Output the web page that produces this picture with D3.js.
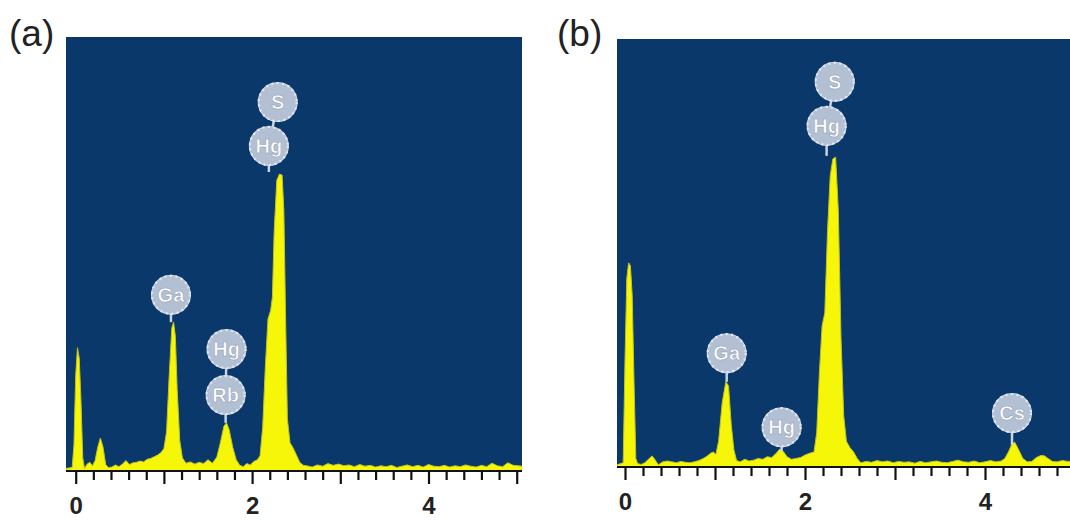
<!DOCTYPE html>
<html>
<title>EDS spectra</title>
<meta charset="UTF-8">
<script type="text/javascript" src="https://d3js.org/d3.v7.min.js"></script>
<style type="text/css">
  body { margin:0; background:#fff; }
  svg { display:block; }
  .tick text { font-family: "Liberation Sans", Arial, sans-serif; font-weight: bold; font-size: 24px; fill: #222; }
</style>
<body>
<svg id="viz" width="1070" height="520"></svg>
<script>
// spectrum (a): [energy keV, counts in % of full scale]
var spectrumA = [
  [-0.11,0.6],[-0.04,0.8],[-0.02,6],[0.0,22],[0.02,28.4],[0.04,26],[0.06,16],[0.08,3],[0.1,0.6],
  [0.13,1.6],[0.16,2.0],[0.19,1.2],[0.22,2.4],[0.25,5.5],[0.28,7.6],[0.31,5.5],[0.34,1.5],[0.37,0.8],
  [0.41,0.9],[0.45,1.4],[0.49,1.0],[0.53,1.6],[0.57,2.4],[0.61,1.5],[0.65,1.9],[0.69,2.0],[0.73,2.3],
  [0.77,2.1],[0.81,2.7],[0.85,2.9],[0.89,3.3],[0.93,3.7],[0.97,4.3],[1.0,5.2],[1.03,9],[1.06,22],
  [1.09,33],[1.11,34.3],[1.13,31],[1.15,19],[1.18,7],[1.21,3],[1.25,1.8],[1.3,2.1],[1.35,1.6],
  [1.4,2.0],[1.45,1.7],[1.5,2.6],[1.55,1.8],[1.6,3.2],[1.64,6.5],[1.68,10.3],[1.71,11.1],[1.74,9.5],
  [1.78,5.5],[1.82,2.6],[1.86,1.3],[1.9,1.0],[1.94,1.7],[1.98,1.4],[2.02,2.2],[2.06,2.6],[2.09,3.5],
  [2.12,10],[2.15,24],[2.18,35],[2.21,37],[2.23,40],[2.25,55],[2.28,67],[2.31,68.4],[2.34,68.2],
  [2.36,60],[2.38,35],[2.40,12],[2.43,6.5],[2.46,5.5],[2.5,3.8],[2.54,2.0],[2.58,1.3],
  [2.62,1.2],[2.68,0.9],[2.74,1.4],[2.8,1.1],[2.86,1.7],[2.92,1.3],[2.98,1.6],[3.04,1.2],[3.1,1.4],
  [3.16,1.0],[3.22,1.5],[3.28,1.1],[3.34,1.3],[3.4,0.9],[3.46,1.2],[3.52,1.0],[3.58,1.3],[3.64,0.8],
  [3.7,1.1],[3.76,1.4],[3.82,1.0],[3.88,1.3],[3.94,0.9],[4.0,1.5],[4.06,1.1],[4.12,1.0],[4.18,1.3],
  [4.24,0.9],[4.3,1.2],[4.36,1.0],[4.42,1.4],[4.48,1.1],[4.54,0.9],[4.6,1.3],[4.66,1.0],[4.72,1.8],
  [4.78,1.2],[4.84,1.0],[4.9,1.9],[4.96,1.3],[5.02,1.2],[5.06,1.1]
];

// spectrum (b)
var spectrumB = [
  [-0.09,0.5],[-0.02,1.0],[0.0,25],[0.02,44],[0.04,47.7],[0.06,47],[0.08,40],[0.1,20],[0.12,2],[0.14,0.8],
  [0.18,0.6],[0.22,1.0],[0.27,2.0],[0.3,2.6],[0.33,1.8],[0.37,0.5],[0.42,1.2],[0.47,1.4],[0.52,1.2],[0.57,1.0],
  [0.62,1.3],[0.67,1.1],[0.72,1.0],[0.77,1.2],[0.82,1.5],[0.87,2.0],[0.91,2.5],[0.95,3.2],[0.98,3.5],
  [1.01,3.0],[1.04,6],[1.08,15],[1.12,19.9],[1.15,19],[1.18,10],[1.21,4],[1.24,1.5],[1.28,1.2],
  [1.33,1.8],[1.38,1.4],[1.43,1.6],[1.48,2.0],[1.53,1.8],[1.58,2.4],[1.63,2.2],[1.68,3.2],[1.72,4.2],
  [1.76,3.6],[1.8,2.4],[1.85,1.8],[1.9,2.0],[1.95,2.2],[2.0,2.8],[2.05,3.2],[2.1,3.5],[2.13,8],
  [2.16,22],[2.19,33],[2.22,36],[2.25,55],[2.28,68],[2.31,72],[2.34,72.4],[2.37,60],[2.40,30],
  [2.43,12],[2.46,6],[2.5,4.5],[2.54,3.5],[2.58,2.0],[2.62,1.0],[2.68,1.3],[2.74,1.1],[2.8,1.5],
  [2.86,1.2],[2.92,1.4],[2.98,1.0],[3.04,1.3],[3.1,1.1],[3.16,1.2],[3.22,0.9],[3.28,1.3],[3.34,1.0],
  [3.4,1.2],[3.46,1.4],[3.52,1.1],[3.58,1.0],[3.64,1.3],[3.7,1.6],[3.76,1.2],[3.82,1.1],[3.88,1.4],
  [3.94,1.0],[4.0,1.2],[4.06,1.5],[4.12,1.2],[4.18,1.4],[4.22,2.0],[4.26,3.5],[4.3,5.4],[4.33,5.8],
  [4.37,4.2],[4.42,2.0],[4.47,1.2],[4.52,1.3],[4.57,2.2],[4.62,2.7],[4.66,2.6],[4.7,2.0],[4.75,1.3],
  [4.8,1.2],[4.86,1.5],[4.92,1.3],[4.98,1.4],[5.05,1.2]
];

// element labels: [symbol, energy of badge, badge height, peak height at tail end (null = linked to badge below)]
var labelsA = [
  ["Ga", 1.08, 40.6, 34.3],
  ["Rb", 1.70, 17.5, 11.1],
  ["Hg", 1.71, 28.1, null],
  ["Hg", 2.19, 74.9, 68.9],
  ["S",  2.29, 85.0, null]
];
var labelsB = [
  ["Ga", 1.13, 26.6, 19.9],
  ["Hg", 1.74, 9.3, 3.6],
  ["Hg", 2.24, 79.7, 72.7],
  ["S",  2.33, 90.0, null],
  ["Cs", 4.30, 12.6, 5.1]
];

var tickLabels = [0, 2, 4];
var panelTitles = ["(a)", "(b)"];

var svg = d3.select("#viz");

function drawPanel(spec, labels, title, box) {
  var x = d3.scaleLinear().domain(box.xDomain).range([box.left, box.right]);
  var y = d3.scaleLinear().domain([0, 100]).range([box.bottom, box.top]);
  var g = svg.append("g");

  var clipId = "clip" + title.replace(/\W/g, "");
  g.append("clipPath").attr("id", clipId)
    .append("rect")
      .attr("x", box.left).attr("y", box.top)
      .attr("width", box.right - box.left).attr("height", box.bottom - box.top);

  // blue plot background
  g.append("rect")
    .attr("x", box.left).attr("y", box.top)
    .attr("width", box.right - box.left).attr("height", box.bottom - box.top)
    .attr("fill", "#0a386b");

  var area = d3.area()
    .x(function(d) { return x(d[0]); })
    .y0(y(0))
    .y1(function(d) { return y(d[1]); });

  g.append("path")
    .datum(spec)
    .attr("clip-path", "url(#" + clipId + ")")
    .attr("d", area)
    .attr("fill", "#f6f608")
    .attr("stroke", "#c3c321")
    .attr("stroke-width", 1);

  // axes: minor every 0.2, integers longer, labels on even numbers
  var minor = d3.range(0, 5.01, 0.2).filter(function(v) { return Math.abs(v - Math.round(v)) > 0.01; });
  var ints = [0, 1, 2, 3, 4, 5];

  var ax1 = g.append("g")
    .attr("transform", "translate(0," + box.bottom + ")")
    .call(d3.axisBottom(x).tickValues(minor).tickSize(9).tickFormat(""));
  var ax2 = g.append("g")
    .attr("transform", "translate(0," + box.bottom + ")")
    .call(d3.axisBottom(x).tickValues(ints).tickSize(13).tickPadding(13)
      .tickFormat(function(d) { return tickLabels.indexOf(d) >= 0 ? d : ""; }));
  [ax1, ax2].forEach(function(a) {
    a.select(".domain").remove();
    a.selectAll("line").attr("stroke", "#111").attr("stroke-width", 2.2);
  });
  g.append("line")
    .attr("x1", box.left).attr("x2", box.right)
    .attr("y1", box.bottom).attr("y2", box.bottom)
    .attr("stroke", "#111").attr("stroke-width", 2);

  // element badges
  var lg = g.append("g").attr("clip-path", "url(#" + clipId + ")");
  labels.forEach(function(d, i) {
    var cx = x(d[1]), cy = y(d[2]);
    var toY = d[3] !== null ? y(d[3]) : null;
    var prev = labels[i - 1];
    if (toY !== null) {
      lg.append("line").attr("x1", cx).attr("x2", cx).attr("y1", cy).attr("y2", toY)
        .attr("stroke", "#c9d3e2").attr("stroke-width", 2.5);
    } else if (prev) {
      lg.append("line").attr("x1", cx).attr("x2", x(prev[1])).attr("y1", cy).attr("y2", y(prev[2]))
        .attr("stroke", "#c9d3e2").attr("stroke-width", 2.5);
    }
  });
  labels.forEach(function(d) {
    var cx = x(d[1]), cy = y(d[2]);
    lg.append("circle").attr("cx", cx).attr("cy", cy).attr("r", 20)
      .attr("fill", "#d3dbe7");
    lg.append("circle").attr("cx", cx).attr("cy", cy).attr("r", 19)
      .attr("fill", "#b3bfd2")
      .attr("stroke", "#e2e8f1").attr("stroke-width", 2.2).attr("stroke-dasharray", "2,3.5");
    lg.append("text").attr("x", cx).attr("y", cy + 7)
      .attr("text-anchor", "middle")
      .attr("font-family", "'Liberation Sans', Arial, sans-serif")
      .attr("font-weight", "bold").attr("font-size", 20)
      .attr("fill", "#ffffff")
      .attr("stroke", "#8d9ab0").attr("stroke-width", 0.5)
      .text(d[0]);
  });

  svg.append("text")
    .attr("x", box.titleX).attr("y", 46)
    .attr("font-family", "'Liberation Sans', Arial, sans-serif")
    .attr("font-size", 37).attr("fill", "#222")
    .text(title);
}

drawPanel(spectrumA, labelsA, panelTitles[0],
  {xDomain: [-0.11, 5.06], left: 66, right: 522, top: 37, bottom: 471, titleX: 9});
drawPanel(spectrumB, labelsB, panelTitles[1],
  {xDomain: [-0.089, 5.0], left: 617, right: 1075, top: 39, bottom: 467, titleX: 557});
</script>
</body>
</html>
